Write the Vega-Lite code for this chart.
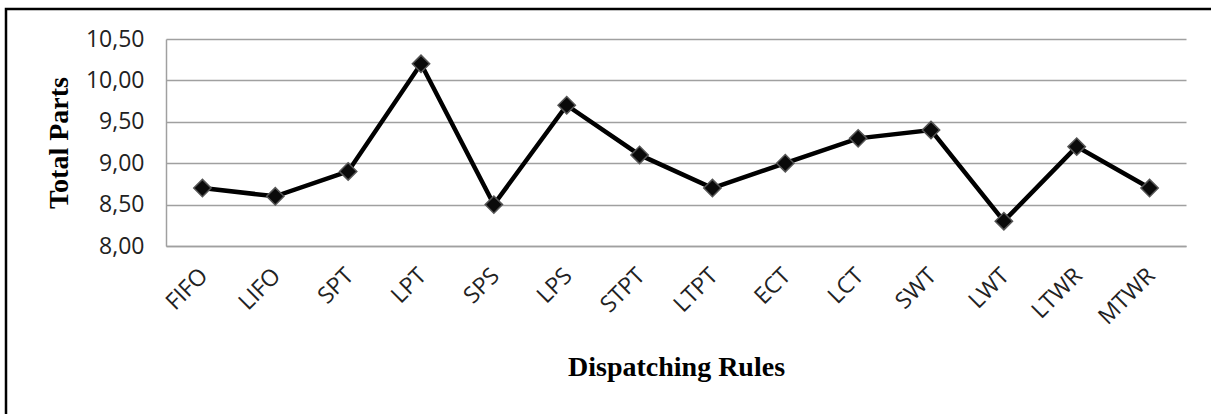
{
  "$schema": "https://vega.github.io/schema/vega-lite/v6.json",
  "width": 1211,
  "height": 411,
  "autosize": {"type": "none"},
  "padding": {"left": 6, "top": 9, "right": -6, "bottom": -6},
  "background": "white",
  "config": {
    "view": {"stroke": "#000000", "strokeWidth": 2.5},
    "axis": {
      "labelFont": "Open Sans",
      "labelFontSize": 23,
      "labelColor": "#222222",
      "titleFont": "Liberation Serif",
      "titleFontWeight": "bold",
      "titleFontSize": 28,
      "titleColor": "#000000",
      "domainColor": "#a0a0a0",
      "domainWidth": 1.5,
      "gridColor": "#a0a0a0",
      "gridWidth": 1.5,
      "ticks": false
    }
  },
  "data": {
    "values": [
      {"rule": "FIFO", "parts": 8.7},
      {"rule": "LIFO", "parts": 8.6},
      {"rule": "SPT", "parts": 8.9},
      {"rule": "LPT", "parts": 10.2},
      {"rule": "SPS", "parts": 8.5},
      {"rule": "LPS", "parts": 9.7},
      {"rule": "STPT", "parts": 9.1},
      {"rule": "LTPT", "parts": 8.7},
      {"rule": "ECT", "parts": 9.0},
      {"rule": "LCT", "parts": 9.3},
      {"rule": "SWT", "parts": 9.4},
      {"rule": "LWT", "parts": 8.3},
      {"rule": "LTWR", "parts": 9.2},
      {"rule": "MTWR", "parts": 8.7}
    ]
  },
  "encoding": {
    "x": {
      "field": "rule",
      "type": "nominal",
      "sort": null,
      "scale": {"type": "band", "range": [160, 1180], "paddingInner": 0, "paddingOuter": 0},
      "axis": {
        "title": "Dispatching Rules",
        "offset": -174,
        "labelAngle": -45,
        "labelPadding": 18,
        "labelOffset": -6,
        "titlePadding": 25,
        "grid": false
      }
    },
    "y": {
      "field": "parts",
      "type": "quantitative",
      "scale": {"domain": [8, 10.5], "range": [237, 30], "zero": false, "nice": false},
      "axis": {
        "title": "Total Parts",
        "offset": -160,
        "values": [8, 8.5, 9, 9.5, 10, 10.5],
        "labelExpr": "replace(format(datum.value, '.2f'), '.', ',')",
        "labelPadding": 22,
        "titlePadding": 12,
        "grid": true
      }
    }
  },
  "layer": [
    {"mark": {"type": "line", "color": "#000000", "strokeWidth": 4.5}},
    {"mark": {"type": "point", "shape": "diamond", "filled": true, "fill": "#0a0a0a", "stroke": "#555555", "strokeWidth": 1.5, "size": 300, "opacity": 1}}
  ]
}
